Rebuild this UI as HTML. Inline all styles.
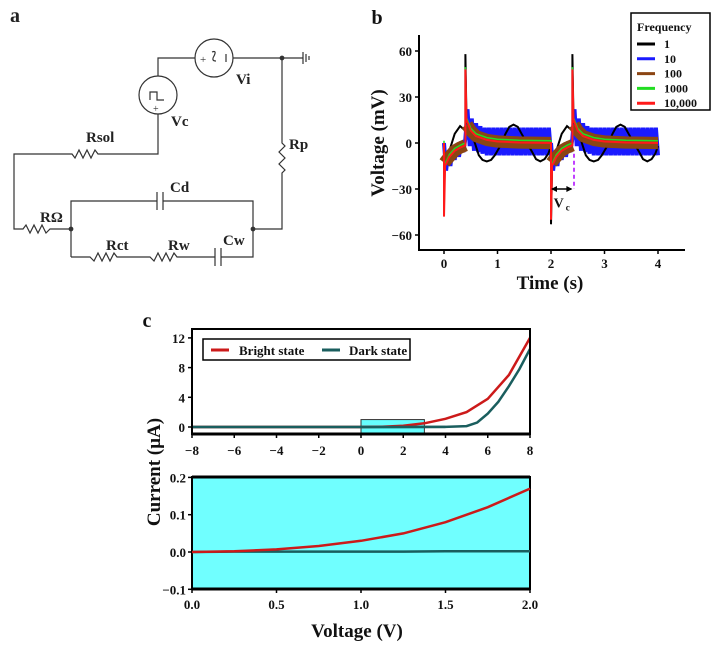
<!DOCTYPE html>
<html><head><meta charset="utf-8"><style>
html,body{margin:0;padding:0;background:#fff}
svg{display:block;font-family:"Liberation Serif",serif;font-weight:bold}
</style></head><body>
<svg id="fig" width="711" height="649" viewBox="0 0 711 649" xmlns="http://www.w3.org/2000/svg">
<g stroke="#333" stroke-width="1.2" fill="none">
  <text x="10" y="22" font-size="20" fill="#222" stroke="none">a</text>
  <polyline points="158,76 158,58 195,58"/>
  <polyline points="233,58 303,58"/>
  <circle cx="214" cy="58" r="19"/>
  <text x="200" y="63" font-size="11" fill="#333" stroke="none" font-weight="normal">+</text>
  <path d="M212,52 q5,-2 2,4 q-3,5 2,5"/>
  <line x1="226" y1="54" x2="226" y2="62"/>
  <circle cx="158" cy="95" r="19"/>
  <polyline points="150,100 150,92 157,92 157,100 164,100"/>
  <text x="153" y="112" font-size="10" fill="#333" stroke="none" font-weight="normal">+</text>
  <line x1="303" y1="52" x2="303" y2="64"/><line x1="306" y1="54" x2="306" y2="62"/><line x1="309" y1="56" x2="309" y2="60"/>
  <circle cx="282" cy="58" r="1.8" fill="#333"/>
  <polyline points="282,58 282,143 285,146 279,152 285,158 279,164 285,170 282,173 282,229 253,229"/>
  <polyline points="158,114 158,154 98,154 95,150 91,158 87,150 83,158 79,150 75,158 72,154 14,154 14,229 23,229 26,225 30,233 34,225 38,233 42,225 46,233 50,229 71,229"/>
  <polyline points="71,257 71,201 157,201" /><line x1="157" y1="192" x2="157" y2="210"/><line x1="163" y1="192" x2="163" y2="210"/>
  <polyline points="163,201 253,201 253,257 221,257"/>
  <line x1="215" y1="248" x2="215" y2="266"/><line x1="221" y1="248" x2="221" y2="266"/>
  <polyline points="215,257 177,257 174,253 170,261 166,253 162,261 158,253 154,261 150,257 117,257 114,253 110,261 106,253 102,261 98,253 94,261 90,257 71,257"/>
  <circle cx="71" cy="229" r="1.8" fill="#333"/><circle cx="253" cy="229" r="1.8" fill="#333"/>
  <g fill="#222" stroke="none" font-size="15">
    <text x="236" y="84">Vi</text><text x="171" y="126">Vc</text><text x="86" y="142">Rsol</text>
    <text x="289" y="149">Rp</text><text x="170" y="192">Cd</text><text x="40" y="222">RΩ</text>
    <text x="106" y="250">Rct</text><text x="168" y="250">Rw</text><text x="223" y="245">Cw</text>
  </g>
</g>
<g id="pb"></g>
<g id="pc"></g>
</svg>
<script>
// ---- Panel b data ----
const bYTicks=[60,30,0,-30,-60];
const bXTicks=[0,1,2,3,4];
const freqLabels=["1","10","100","1000","10,000"];
const freqColors=["#000","#1a1aff","#8B4513","#22dd22","#ff1a1a"];
const blackT=[0,0,0.1,0.2,0.3,0.4,0.4,0.42,0.55,0.65,0.72,0.8,0.88,0.95,1.05,1.15,1.22,1.3,1.38,1.45,1.55,1.65,1.72,1.8,1.88,1.95,2,2,2.02,2.1,2.2,2.3,2.4,2.4,2.42,2.55,2.65,2.72,2.8,2.88,2.95,3.05,3.15,3.22,3.3,3.38,3.45,3.55,3.65,3.72,3.8,3.88,3.95,4];
const blackV=[0,-15,-5,6,11,8,58,15,3,-8,-11,-12,-11,-8,-2,6,10.5,12,10.5,6,0,-6,-10.5,-12,-10.5,-7,-2,-53,-15,-5,6,11,8,58,15,3,-8,-11,-12,-11,-8,-2,6,10.5,12,10.5,6,0,-6,-10.5,-12,-10.5,-7,-2];
const blueStep=0.04;
const blueV=[0,-18,-5,-15,-3,-11,-1,-9,1,-6,3,22,-2,16,-5,13,-6,11,-7,10,-8,10,-8,10,-8,10,-8,10,-8,10,-8,10,-8,10,-8,10,-8,10,-8,10,-8,10,-8,10,-8,10,-8,10,-8,10,-8];
const redT=[0,0,0.02,0.1,0.2,0.3,0.4,0.4,0.42,0.5,0.6,0.8,1.0,1.4,2,2,2.02,2.1,2.2,2.3,2.4,2.4,2.42,2.5,2.6,2.8,3.0,3.4,4];
const redV=[0,-48,-15,-9,-5,-3,-1.5,48,15,8,4.5,2,1,0.3,0,-50,-15,-9,-5,-3,-1.5,48,15,8,4.5,2,1,0.3,0];
const brownSegT=[[0.01,0.05,0.1,0.2,0.3,0.4],[0.43,0.5,0.6,0.8,1.0,1.4,2.0],[2.01,2.05,2.1,2.2,2.3,2.4],[2.43,2.5,2.6,2.8,3.0,3.4,4.0]];
const brownSegV=[[-13,-11,-9,-5,-3,-1.5],[12,8,4.5,2,1,0.3,0],[-13,-11,-9,-5,-3,-1.5],[12,8,4.5,2,1,0.3,0]];
const brownHalf=4;
// ---- Panel c data ----
const cTopYTicks=[0,4,8,12];
const cTopXTicks=[-8,-6,-4,-2,0,2,4,6,8];
const brightV=[-8,-4,0,1,2,3,4,5,6,7,8];
const brightI=[0,0,0,0.03,0.17,0.5,1.1,2.0,3.8,7,12];
const darkV=[-8,0,4,5,5.5,6,6.5,7,7.5,8];
const darkI=[0,0,0.02,0.12,0.6,1.8,3.4,5.5,7.8,10.5];
const cBotYTicks=["0.2","0.1","0.0","-0.1"];
const cBotXTicks=["0.0","0.5","1.0","1.5","2.0"];
const zoomV=[0,0.25,0.5,0.75,1.0,1.25,1.5,1.75,2.0];
const zoomBright=[0,0.002,0.007,0.016,0.03,0.05,0.08,0.12,0.17];
const zoomDark=[0,0.001,0.001,0.001,0.001,0.001,0.002,0.002,0.002];

const NS="http://www.w3.org/2000/svg";
function mk(parent,tag,attrs){const e=document.createElementNS(NS,tag);for(const k in attrs)e.setAttribute(k,attrs[k]);parent.appendChild(e);return e;}
function txt(parent,x,y,s,size,anchor,extra){const t=mk(parent,'text',Object.assign({x:x,y:y,'font-size':size,'text-anchor':anchor||'middle',fill:'#111'},extra||{}));t.textContent=s;return t;}
function pts(xs,ys,fx,fy){return xs.map((x,i)=>fx(x).toFixed(1)+','+fy(ys[i]).toFixed(1)).join(' ');}

// ---- Panel b ----
(function(){
const g=document.getElementById('pb');
const L=419,R=685,T=35,B=250;
const bx=t=>444+t*53.5, by=v=>143-v*46/30;
let t=txt(g,377,24,'b',20);


const clip=mk(g,'clipPath',{id:'cb'});mk(clip,'rect',{x:L,y:T,width:R-L,height:B-T});
const plot=mk(g,'g',{'clip-path':'url(#cb)'});
const blueT1=blueV.map((v,i)=>i*blueStep), blueT2=blueV.map((v,i)=>2+i*blueStep);
let bl=mk(plot,'polyline',{points:pts(blueT1.concat(blueT2),blueV.concat(blueV),bx,by),fill:'none',stroke:freqColors[1],'stroke-width':4});


let bk=mk(plot,'polyline',{points:pts(blackT,blackV,bx,by),fill:'none',stroke:freqColors[0],'stroke-width':2});


const brownG=mk(plot,'g',{});


brownSegT.forEach((ts,k)=>{mk(brownG,'polyline',{points:pts(ts,brownSegV[k],bx,by),fill:'none',stroke:freqColors[2],'stroke-width':brownHalf*2*46/30,'stroke-linejoin':'round','stroke-linecap':'butt'});});
let gr=mk(plot,'polyline',{points:pts(redT,redV.map(v=>v+1.5),bx,by),fill:'none',stroke:freqColors[3],'stroke-width':1.5});


let rd=mk(plot,'polyline',{points:pts(redT,redV,bx,by),fill:'none',stroke:freqColors[4],'stroke-width':2});


// Vc annotation
mk(g,'line',{x1:bx(2.43),y1:by(-7),x2:bx(2.43),y2:by(-30),stroke:'#c040ff','stroke-width':2,'stroke-dasharray':'4,3'});
mk(g,'line',{x1:bx(2.02),y1:by(-30),x2:bx(2.38),y2:by(-30),stroke:'#000','stroke-width':1.5});
mk(g,'path',{d:`M${bx(2.0)},${by(-30)} l6,-3 v6z M${bx(2.4)},${by(-30)} l-6,-3 v6z`,fill:'#000'});
let vc=txt(g,bx(2.2)-3,by(-42),'V',14);


txt(g,bx(2.2)+6,by(-44),'c',9);
let ax=mk(g,'path',{d:`M${L},${T} V${B} H${R}`,fill:'none',stroke:'#000','stroke-width':2});


bYTicks.forEach(v=>{mk(g,'line',{x1:L-4,y1:by(v),x2:L,y2:by(v),stroke:'#000','stroke-width':1.5});
 let l=txt(g,L-7,by(v)+5,v<0?'\u2212'+(-v):String(v),13,'end');
 
 });
bXTicks.forEach(v=>{mk(g,'line',{x1:bx(v),y1:B,x2:bx(v),y2:B+4,stroke:'#000','stroke-width':1.5});
 let l=txt(g,bx(v),B+18,String(v),13);
 
 });
let xt=txt(g,550,289,'Time (s)',19);


let yt=txt(g,0,0,'Voltage (mV)',19,'middle',{transform:'translate(384,143) rotate(-90)'});


const lg=mk(g,'g',{});


mk(lg,'rect',{x:631,y:13,width:79,height:97,fill:'#fff',stroke:'#000','stroke-width':1.5});
txt(lg,637,31,'Frequency',12,'start');
freqLabels.forEach((s,i)=>{const y=44+i*14.8;
 mk(lg,'line',{x1:637,y1:y,x2:655,y2:y,stroke:freqColors[i],'stroke-width':3});
 let e=txt(lg,664,y+4,s,12,'start');
 
 });
})();

// ---- Panel c ----
(function(){
const g=document.getElementById('pc');
let t=txt(g,147,327,'c',20);


const L=192,R=530,T=329,B=434;
const tx=v=>L+(v+8)*(R-L)/16, ty=i=>427-i*29.7/4;
let zr=mk(g,'rect',{x:tx(0),y:ty(1),width:tx(3)-tx(0),height:B-ty(1),fill:'#66ffff',stroke:'#333','stroke-width':1});


let dk=mk(g,'polyline',{points:pts(darkV,darkI,tx,ty),fill:'none',stroke:'#1a5e5e','stroke-width':2.5});


let bt=mk(g,'polyline',{points:pts(brightV,brightI,tx,ty),fill:'none',stroke:'#cc1a1a','stroke-width':2.5});


mk(g,'polyline',{points:pts(darkV.slice(0,3),darkI.slice(0,3),tx,ty),fill:'none',stroke:'#1a5e5e','stroke-width':2.5});
let fr=mk(g,'rect',{x:L,y:T,width:R-L,height:B-T,fill:'none',stroke:'#000','stroke-width':2});


mk(g,'line',{x1:L,y1:B,x2:R,y2:B,stroke:'#000','stroke-width':3});
cTopYTicks.forEach(v=>{mk(g,'line',{x1:L-4,y1:ty(v),x2:L,y2:ty(v),stroke:'#000','stroke-width':1.5});
 let l=txt(g,L-7,ty(v)+5,String(v),13,'end');
 
 });
cTopXTicks.forEach(v=>{mk(g,'line',{x1:tx(v),y1:B,x2:tx(v),y2:B+4,stroke:'#000','stroke-width':1.5});
 let l=txt(g,tx(v),B+21,v<0?'\u2212'+(-v):String(v),13);
 
 });
const lg=mk(g,'g',{});


mk(lg,'rect',{x:203,y:339,width:207,height:21,fill:'#fff',stroke:'#000','stroke-width':1.5});
mk(lg,'line',{x1:211,y1:350,x2:229,y2:350,stroke:'#cc1a1a','stroke-width':3});
let l1=txt(lg,239,355,'Bright state',13,'start');


mk(lg,'line',{x1:322,y1:350,x2:340,y2:350,stroke:'#1a5e5e','stroke-width':3});
let l2=txt(lg,349,355,'Dark state',13,'start');


const T2=477,B2=589;
const bx=v=>L+v*(R-L)/2, by=i=>552-i*373;
let bg=mk(g,'rect',{x:L,y:T2,width:R-L,height:B2-T2,fill:'#70ffff',stroke:'#000','stroke-width':2});


let zd=mk(g,'polyline',{points:pts(zoomV,zoomDark,bx,by),fill:'none',stroke:'#1a5e5e','stroke-width':2.5});


let zb=mk(g,'polyline',{points:pts(zoomV,zoomBright,bx,by),fill:'none',stroke:'#cc1a1a','stroke-width':2.5});


mk(g,'line',{x1:L,y1:T2,x2:R,y2:T2,stroke:'#000','stroke-width':3});
mk(g,'line',{x1:L,y1:B2,x2:R,y2:B2,stroke:'#000','stroke-width':3});
cBotYTicks.forEach(s=>{const v=parseFloat(s);mk(g,'line',{x1:L-4,y1:by(v),x2:L,y2:by(v),stroke:'#000','stroke-width':1.5});
 let l=txt(g,L-6,by(v)+5,s.replace('-','\u2212'),13,'end');
 
 });
cBotXTicks.forEach(s=>{const v=parseFloat(s);mk(g,'line',{x1:bx(v),y1:B2,x2:bx(v),y2:B2+4,stroke:'#000','stroke-width':1.5});
 let l=txt(g,bx(v),B2+20,s,13);
 
 });
let xt=txt(g,357,637,'Voltage (V)',19);


let yt=txt(g,0,0,'Current (\u00b5A)',19,'middle',{transform:'translate(160,472) rotate(-90)'});


})();
</script>
</body></html>
